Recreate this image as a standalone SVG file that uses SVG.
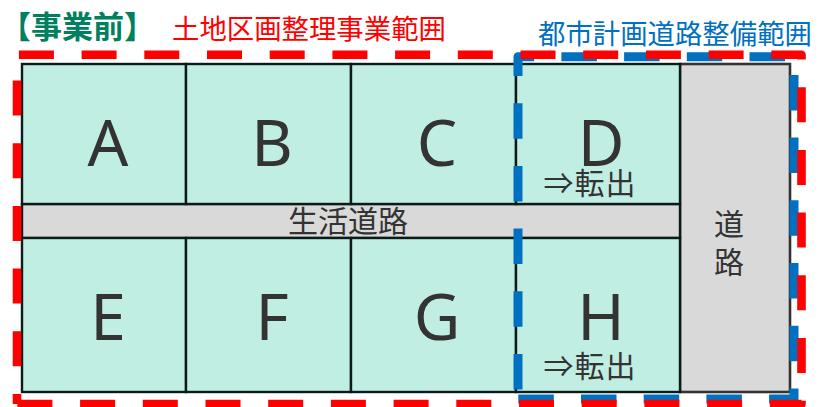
<svg xmlns="http://www.w3.org/2000/svg" width="830" height="407" viewBox="0 0 830 407">
<style>
.cell{fill:#C1EEE3;stroke:#0D1A1A;stroke-width:2.4}
.road{fill:#D9D9D9;stroke:#0D1A1A;stroke-width:2.4}
.mainroad{fill:#D9D9D9;stroke:#333333;stroke-width:2.6}
.let{font-family:"Noto Sans","DejaVu Sans",sans-serif;font-size:64px;fill:#333333;text-anchor:middle}
.jp{font-family:"Noto Sans CJK JP",sans-serif;fill:#333333;text-anchor:middle}
.out{font-size:30px;letter-spacing:1px}
.title{font-family:"Noto Sans CJK JP",sans-serif;font-weight:bold;font-size:31px;fill:#00805E}
.lbl{font-family:"Noto Sans CJK JP",sans-serif;font-size:27.4px}
.bnd{fill:none;stroke-linejoin:round}
</style>
<rect width="830" height="407" fill="#FFFFFF"/>
<g id="title"><text class="title" x="0" y="38">【事業前】</text></g>
<g id="label-kukaku"><text class="lbl" x="172" y="39" fill="#FF0000">土地区画整理事業範囲</text></g>
<g id="label-toshi"><text class="lbl" x="538" y="44" fill="#0070C0" font-size="27.6">都市計画道路整備範囲</text></g>
<g id="road-main"><rect class="mainroad" x="680" y="64" width="110" height="328"/><text class="jp" x="729" y="235" font-size="30">道</text><text class="jp" x="729" y="273" font-size="30">路</text></g>
<g id="road-living"><rect class="road" x="22" y="204" width="658" height="34"/><text class="jp" x="348" y="232" font-size="30">生活道路</text></g>
<g id="A"><rect class="cell" x="22" y="64" width="164" height="140"/><text class="let" x="108" y="166">A</text></g>
<g id="B"><rect class="cell" x="186" y="64" width="165" height="140"/><text class="let" x="272" y="166">B</text></g>
<g id="C"><rect class="cell" x="351" y="64" width="165" height="140"/><text class="let" x="437" y="166">C</text></g>
<g id="D"><rect class="cell" x="516" y="64" width="164" height="140"/><text class="let" x="601" y="166">D</text><text class="jp out" x="590" y="194">⇒転出</text></g>
<g id="E"><rect class="cell" x="22" y="238" width="164" height="154"/><text class="let" x="108" y="340">E</text></g>
<g id="F"><rect class="cell" x="186" y="238" width="165" height="154"/><text class="let" x="272" y="340">F</text></g>
<g id="G"><rect class="cell" x="351" y="238" width="165" height="154"/><text class="let" x="437" y="340">G</text></g>
<g id="H"><rect class="cell" x="516" y="238" width="164" height="154"/><text class="let" x="601" y="340">H</text><text class="jp out" x="590" y="377">⇒転出</text></g>
<g id="boundaries">
<path class="bnd" d="M518,399 V56.7 H794 V399 H518" stroke="#0070C0" stroke-width="9" stroke-dasharray="35.5 27.2" stroke-dashoffset="53.2"/>
<path class="bnd" d="M17,404 V54.7 H801.5 V404 H17" stroke="#FF0000" stroke-width="8.6" stroke-dasharray="35 27.7" stroke-dashoffset="25"/>
</g>
</svg>
